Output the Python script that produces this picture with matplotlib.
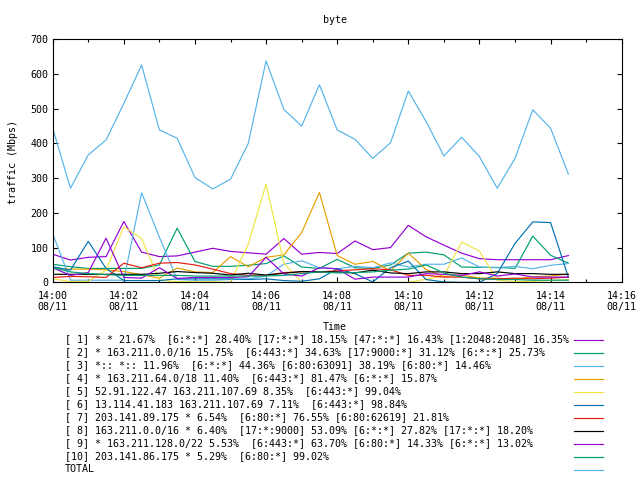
import matplotlib
matplotlib.use("Agg")
import matplotlib.pyplot as plt
import matplotlib.ticker as mticker
from matplotlib.lines import Line2D

# Amostras a cada 30 s, em minutos depois das 14:00 (08/11)
minutos = [0, 0.5, 1, 1.5, 2, 2.5, 3, 3.5, 4, 4.5,
           5, 5.5, 6, 6.5, 7, 7.5, 8, 8.5, 9, 9.5,
           10, 10.5, 11, 11.5, 12, 12.5, 13, 13.5, 14, 14.5]

# Trafego em Mbps
s1 = [81, 64, 72, 74, 175, 87, 74, 76, 87, 98, 89, 85, 81, 126, 81,
      86, 83, 119, 94, 100, 164, 131, 107, 84, 68, 65, 65, 65, 65, 77]
s2 = [52, 45, 40, 40, 40, 40, 50, 156, 60, 46, 46, 49, 54, 76, 44,
      40, 66, 42, 40, 50, 84, 87, 79, 44, 43, 43, 40, 133, 78, 55]
s3 = [140, 6, 6, 6, 6, 258, 130, 8, 6, 6, 8, 10, 18, 52, 62,
      42, 39, 46, 42, 56, 44, 52, 52, 70, 44, 42, 46, 39, 49, 54]
s4 = [40, 38, 38, 36, 31, 22, 12, 41, 30, 28, 74, 45, 72, 79, 143,
      259, 77, 52, 60, 33, 84, 37, 16, 21, 12, 12, 9, 16, 18, 24]
s5 = [10, 2, 3, 35, 160, 126, 6, 2, 2, 2, 0, 110, 283, 55, 0,
      0, 0, 0, 0, 0, 0, 9, 18, 116, 90, 6, 2, 3, 5, 8]
s6 = [45, 35, 118, 40, 5, 5, 5, 10, 10, 10, 10, 8, 10, 5, 3,
      10, 39, 25, 1, 42, 61, 8, 1, 0, 0, 25, 112, 174, 172, 15]
s7 = [14, 17, 16, 14, 55, 42, 55, 57, 50, 38, 25, 20, 20, 28, 30,
      30, 33, 36, 39, 36, 20, 20, 15, 15, 10, 10, 12, 10, 12, 15]
s8 = [23, 23, 23, 23, 23, 23, 26, 31, 28, 26, 21, 26, 21, 26, 31,
      30, 30, 27, 35, 27, 25, 30, 30, 25, 25, 30, 25, 25, 23, 23]
s9 = [42, 20, 28, 127, 14, 12, 42, 11, 14, 14, 14, 16, 72, 24, 18,
      42, 39, 9, 15, 15, 15, 25, 23, 20, 30, 18, 24, 15, 15, 15]
s10 = [42, 30, 25, 22, 20, 20, 20, 20, 18, 18, 18, 18, 18, 20, 25,
       30, 27, 28, 30, 35, 38, 50, 27, 15, 10, 8, 8, 6, 6, 6]
total = [444, 271, 367, 410, 515, 626, 439, 415, 302, 269, 297, 400, 638, 498, 450,
         569, 439, 412, 357, 402, 551, 463, 364, 418, 362, 271, 357, 497, 444, 312]

rotulos = [
    "[ 1] * * 21.67%  [6:*:*] 28.40% [17:*:*] 18.15% [47:*:*] 16.43% [1:2048:2048] 16.35%",
    "[ 2] * 163.211.0.0/16 15.75%  [6:443:*] 34.63% [17:9000:*] 31.12% [6:*:*] 25.73%",
    "[ 3] *:: *:: 11.96%  [6:*:*] 44.36% [6:80:63091] 38.19% [6:80:*] 14.46%",
    "[ 4] * 163.211.64.0/18 11.40%  [6:443:*] 81.47% [6:*:*] 15.87%",
    "[ 5] 52.91.122.47 163.211.107.69 8.35%  [6:443:*] 99.04%",
    "[ 6] 13.114.41.183 163.211.107.69 7.11%  [6:443:*] 98.84%",
    "[ 7] 203.141.89.175 * 6.54%  [6:80:*] 76.55% [6:80:62619] 21.81%",
    "[ 8] 163.211.0.0/16 * 6.40%  [17:*:9000] 53.09% [6:*:*] 27.82% [17:*:*] 18.20%",
    "[ 9] * 163.211.128.0/22 5.53%  [6:443:*] 63.70% [6:80:*] 14.33% [6:*:*] 13.02%",
    "[10] 203.141.86.175 * 5.29%  [6:80:*] 99.02%",
    "TOTAL",
]

CORES = ["#9400D3", "#009E73", "#56B4E9", "#E69F00", "#F0E442", "#0072B2",
         "#E51E10", "#000000", "#9400D3", "#009E73", "#56B4E9"]

W, H = 640, 480
plt.rcParams["font.family"] = "DejaVu Sans Mono"
plt.rcParams["font.size"] = 7.2

fig = plt.figure(figsize=(6.4, 4.8), dpi=100)
ax = fig.add_axes([52.7 / W, 1 - 282.3 / H, (621.7 - 52.7) / W, (282.3 - 39.3) / H])

series = [s1, s2, s3, s4, s5, s6, s7, s8, s9, s10, total]
for valores, cor in zip(series, CORES):
    ax.plot(minutos, valores, color=cor, linewidth=0.85)

ax.set_xlim(0, 16)
ax.set_ylim(0, 700)
ax.xaxis.set_major_locator(mticker.MultipleLocator(2))
ax.xaxis.set_minor_locator(mticker.MultipleLocator(1))
ax.xaxis.set_major_formatter(mticker.FuncFormatter(lambda x, pos: f"14:{int(round(x)):02d}\n08/11"))
ax.yaxis.set_major_locator(mticker.MultipleLocator(100))
ax.tick_params(which="both", direction="in", top=True, right=True, width=0.8, colors="black")
ax.tick_params(which="major", length=3.6)
ax.tick_params(which="minor", length=2.2)
ax.tick_params(axis="x", which="major", pad=6)
ax.tick_params(axis="y", pad=3)
for borda in ax.spines.values():
    borda.set_linewidth(0.8)

# Titulo e nomes dos eixos
fig.text(335 / W, 1 - 20 / H, "byte", ha="center", va="center")
fig.text(12.7 / W, 1 - 162 / H, "traffic (Mbps)", rotation=90, ha="center", va="center")
fig.text(335 / W, 1 - 327.5 / H, "Time", ha="center", va="center")

# Legenda no estilo do gnuplot: texto a esquerda, amostra da linha a direita
for k, (texto, cor) in enumerate(zip(rotulos, CORES)):
    y = 1 - (339.5 + 13 * k) / H
    fig.text(65 / W, y, texto, ha="left", va="center")
    fig.add_artist(Line2D([574 / W, 603 / W], [y, y], color=cor, linewidth=0.85,
                          transform=fig.transFigure))

fig.savefig("out.png", dpi=100)
plt.close(fig)
